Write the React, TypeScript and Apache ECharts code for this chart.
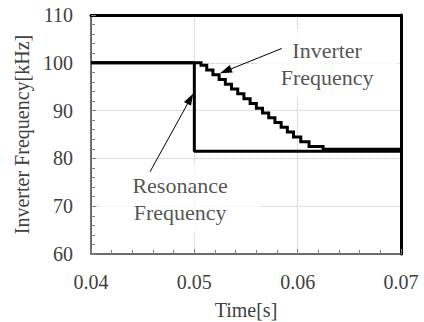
import { useEffect, useRef } from "react";
import * as echarts from "echarts";

// axis ranges
const xMin = 0.04;
const xMax = 0.07;
const xStep = 0.01;
const yMin = 60;
const yMax = 110;
const yStep = 10;

// Resonance frequency (kHz) vs time (s)
const resonanceTimes = [0.04, 0.05, 0.05, 0.07];
const resonanceValues = [100, 100, 81.5, 81.5];

// Inverter frequency staircase: level start times and levels (kHz)
const inverterStepTimes = [
  0.04, 0.05065, 0.0512, 0.0518, 0.0524, 0.053, 0.0536, 0.0542, 0.0548, 0.0554,
  0.056, 0.0566, 0.0572, 0.0578, 0.0584, 0.059, 0.0596, 0.0603, 0.0611, 0.06246,
];
const inverterStepLevels = [
  100, 99.5, 98.5, 97.5, 96.5, 95.5, 94.5, 93.5, 92.5, 91.5,
  90.5, 89.5, 88.5, 87.5, 86.5, 85.5, 84.5, 83.5, 82.5, 81.9,
];
const inverterEndTime = 0.07;

// annotation texts
const inverterLabelLines = ["Inverter", "Frequency"];
const resonanceLabelLines = ["Resonance", "Frequency"];
const xAxisTitle = "Time[s]";
const yAxisTitle = "Inverter Frequency[kHz]";

// annotation anchors (data coordinates)
const inverterLabelAt = [0.06285, 99.85];
const resonanceLabelAt = [0.04862, 71.5];
const inverterArrow = [
  [0.05846, 103.0],
  [0.05303, 98.27],
];
const resonanceArrow = [
  [0.04571, 77.2],
  [0.04962, 92.5],
];

const FONT = "'Liberation Serif', 'Times New Roman', serif";

export default function App() {
  const ref = useRef<HTMLDivElement>(null);

  useEffect(() => {
    if (!ref.current) return;
    const chart = echarts.init(ref.current, undefined, { renderer: "svg" });

    const resonanceData = resonanceTimes.map((t, i) => [t, resonanceValues[i]]);
    const inverterData: number[][] = [];
    for (let i = 0; i < inverterStepTimes.length; i++) {
      const tNext = i + 1 < inverterStepTimes.length ? inverterStepTimes[i + 1] : inverterEndTime;
      inverterData.push([inverterStepTimes[i], inverterStepLevels[i]]);
      inverterData.push([tNext, inverterStepLevels[i]]);
    }

    const labelColor = "#404040";
    const axisGray = "#7f7f7f";
    const tickRich = { s: { fontFamily: FONT, fontSize: 20, color: labelColor } };
    const annRich = { s: { fontFamily: FONT, fontSize: 22, lineHeight: 27, color: "#262626" } };
    const richLines = (lines: string[]) => lines.map((l) => `{s|${l}}`).join("\n");

    chart.setOption({
      animation: false,
      backgroundColor: "#ffffff",
      textStyle: { fontFamily: FONT },
      grid: {
        left: 91,
        right: 23,
        top: 15,
        bottom: 68,
        containLabel: false,
        outerBoundsMode: "none",
      },
      xAxis: [
        {
          type: "value",
          min: xMin,
          max: xMax,
          interval: xStep,
          name: xAxisTitle,
          nameLocation: "middle",
          nameGap: 46,
          nameTextStyle: { fontFamily: FONT, fontSize: 20, color: labelColor },
          axisLine: { show: true, lineStyle: { color: "#404040", width: 1.5 } },
          axisTick: { show: true, inside: true, length: 5, lineStyle: { color: axisGray } },
          minorTick: { show: true, splitNumber: 5, length: 4, lineStyle: { color: axisGray } },
          axisLabel: {
            fontFamily: FONT,
            fontSize: 20,
            color: labelColor,
            margin: 18,
            formatter: (v: number) => `{s|${v.toFixed(2)}}`,
            rich: tickRich,
          },
          splitLine: { show: true, lineStyle: { color: "#d4d4d4", width: 1, type: [3, 1] } },
        },
        {
          type: "value",
          position: "top",
          min: xMin,
          max: xMax,
          axisLine: { show: true, lineStyle: { color: "#000", width: 3 } },
          axisTick: { show: false },
          axisLabel: { show: false },
          splitLine: { show: false },
        },
      ],
      yAxis: [
        {
          type: "value",
          min: yMin,
          max: yMax,
          interval: yStep,
          name: yAxisTitle,
          nameLocation: "middle",
          nameGap: 57,
          nameTextStyle: { fontFamily: FONT, fontSize: 20, color: labelColor },
          axisLine: { show: true, lineStyle: { color: "#404040", width: 1.5 } },
          axisTick: { show: true, inside: true, length: 5, lineStyle: { color: axisGray } },
          minorTick: { show: true, splitNumber: 5, length: 4, lineStyle: { color: axisGray } },
          axisLabel: {
            fontFamily: FONT,
            fontSize: 20,
            color: labelColor,
            margin: 18,
            formatter: (v: number) => `{s|${v}}`,
            rich: tickRich,
          },
          splitLine: { show: true, lineStyle: { color: "#d4d4d4", width: 1, type: [3, 1] } },
        },
        {
          type: "value",
          position: "right",
          min: yMin,
          max: yMax,
          axisLine: { show: true, lineStyle: { color: "#000", width: 3 } },
          axisTick: { show: false },
          axisLabel: { show: false },
          splitLine: { show: false },
        },
      ],
      series: [
        {
          name: "Label boxes",
          type: "scatter",
          z: 1,
          silent: true,
          symbol: "rect",
          data: [
            {
              value: inverterLabelAt,
              symbolSize: [140, 68],
              label: { formatter: richLines(inverterLabelLines) },
            },
            {
              value: resonanceLabelAt,
              symbolSize: [160, 70],
              label: { formatter: richLines(resonanceLabelLines) },
            },
          ],
          itemStyle: { color: "#ffffff" },
          label: {
            show: true,
            position: "inside",
            fontFamily: FONT,
            fontSize: 22,
            lineHeight: 27,
            color: "#262626",
            rich: annRich,
          },
        },
        {
          name: "Resonance Frequency",
          type: "line",
          z: 3,
          data: resonanceData,
          showSymbol: false,
          symbol: "none",
          lineStyle: { color: "#000", width: 3 },
        },
        {
          name: "Inverter Frequency",
          type: "line",
          z: 3,
          data: inverterData,
          showSymbol: false,
          symbol: "none",
          lineStyle: { color: "#000", width: 3, join: "miter" },
          markLine: {
            silent: true,
            symbol: ["none", "triangle"],
            symbolSize: [8, 12],
            label: { show: false },
            lineStyle: { color: "#000", width: 1, type: "solid" },
            data: [
              [{ coord: inverterArrow[0] }, { coord: inverterArrow[1] }],
              [{ coord: resonanceArrow[0] }, { coord: resonanceArrow[1] }],
            ],
          },
        },
      ],
    });

    return () => chart.dispose();
  }, []);

  return (
    <div
      ref={ref}
      style={{ position: "fixed", left: 0, top: 0, width: 424, height: 322, background: "#fff" }}
    />
  );
}
